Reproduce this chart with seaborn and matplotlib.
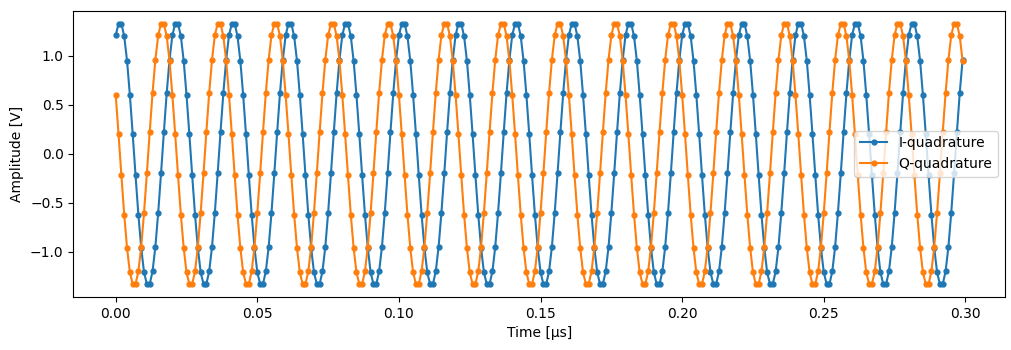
import numpy as np
import pandas as pd
import matplotlib
matplotlib.use("Agg")
import matplotlib.pyplot as plt
import seaborn as sns

# One period of samples (20 samples per period, 1 ns step)
I_PERIOD = [1.21, 1.33, 1.33, 1.20, 0.95, 0.60, 0.20, -0.22, -0.62, -0.96,
            -1.21, -1.33, -1.33, -1.20, -0.95, -0.60, -0.20, 0.22, 0.62, 0.96]
Q_PERIOD = [0.60, 0.20, -0.22, -0.62, -0.96, -1.21, -1.33, -1.33, -1.20, -0.95,
            -0.60, -0.20, 0.22, 0.62, 0.96, 1.21, 1.33, 1.33, 1.20, 0.95]
N_PERIODS = 15
T_STEP_US = 0.001

# The signal repeats the same 20 samples every period
i_vals = np.tile(I_PERIOD, N_PERIODS)
q_vals = np.tile(Q_PERIOD, N_PERIODS)
time_us = np.arange(len(i_vals)) * T_STEP_US

df = pd.DataFrame({"time": time_us, "I": i_vals, "Q": q_vals})

fig, ax = plt.subplots(figsize=(10.12, 3.5), dpi=100)

line_kw = dict(marker=".", markersize=7, markeredgecolor=None,
               markeredgewidth=1.0, linewidth=1.5)
sns.lineplot(data=df, x="time", y="I", ax=ax, color="tab:blue",
             label="I-quadrature", **line_kw)
sns.lineplot(data=df, x="time", y="Q", ax=ax, color="tab:orange",
             label="Q-quadrature", **line_kw)

ax.set_xlabel("Time [µs]")
ax.set_ylabel("Amplitude [V]")
ax.legend(loc="center right")

plt.subplots_adjust(left=0.0725, right=0.993, top=0.970, bottom=0.151)
plt.savefig("out.png", dpi=100)
